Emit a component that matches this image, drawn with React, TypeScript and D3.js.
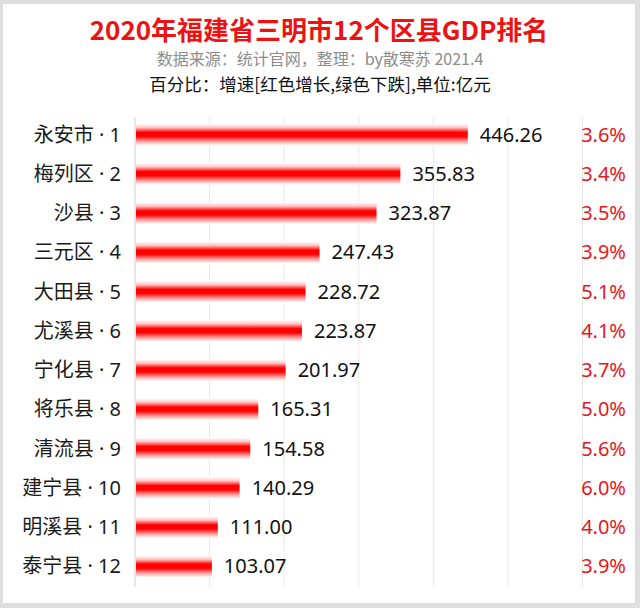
import { scaleBand, scaleLinear } from 'd3';

const counties = ['永安市', '梅列区', '沙县', '三元区', '大田县', '尤溪县', '宁化县', '将乐县', '清流县', '建宁县', '明溪县', '泰宁县'];
const gdp = [446.26, 355.83, 323.87, 247.43, 228.72, 223.87, 201.97, 165.31, 154.58, 140.29, 111.0, 103.07];
const growth = [3.6, 3.4, 3.5, 3.9, 5.1, 4.1, 3.7, 5.0, 5.6, 6.0, 4.0, 3.9];
const xTicks = [100, 200, 300, 400, 500, 600];

const W = 640;
const H = 608;
const FONT = '"Noto Sans CJK SC", "Noto Sans", sans-serif';
const LATIN = '"Noto Sans", "Liberation Sans", sans-serif';

export default function App() {
  const x = scaleLinear().domain([0, 600]).range([135, 582.5]);
  const y = scaleBand<string>().domain(counties).range([115, 586]);
  const barH = 22;

  return (
    <svg
      width={W}
      height={H}
      style={{ position: 'absolute', left: 0, top: 0, fontFamily: FONT }}
    >
      <defs>
        <linearGradient id="barGrad" x1="0" y1="0" x2="0" y2="1">
          <stop offset="0%" stopColor="#ffffff" />
          <stop offset="18%" stopColor="#ffc4c4" />
          <stop offset="40%" stopColor="#ff0000" />
          <stop offset="58%" stopColor="#ff0000" />
          <stop offset="80%" stopColor="#ff9a9a" />
          <stop offset="100%" stopColor="#ffffff" />
        </linearGradient>
      </defs>

      {/* frame */}
      <rect x={0} y={0} width={W} height={H} fill="#dedede" />
      <rect x={3} y={4} width={632} height={599} fill="#ffffff" />

      {/* titles */}
      <text x={319} y={40} textAnchor="middle" fill="#ee1111" fontSize={26} fontWeight="bold">
        2020年福建省三明市12个区县GDP排名
      </text>
      <text x={320} y={65} textAnchor="middle" fill="#8c8c8c" fontSize={16}>
        数据来源：统计官网，整理：by散寒苏 2021.4
      </text>
      <text x={320} y={91} textAnchor="middle" fill="#111111" fontSize={17.5}>
        百分比：增速[红色增长,绿色下跌],单位:亿元
      </text>

      {/* grid */}
      {xTicks.map((t) => (
        <line key={t} x1={x(t)} x2={x(t)} y1={117} y2={587} stroke="#e8e8e8" strokeWidth={1} />
      ))}
      <line x1={x(0)} x2={x(0)} y1={117} y2={587} stroke="#cfcfcf" strokeWidth={1} />

      {/* bars */}
      {counties.map((c, i) => {
        const cy = (y(c) ?? 0) + y.bandwidth() / 2;
        return (
          <g key={c}>
            <rect x={x(0) + 1} y={cy - barH / 2} width={x(gdp[i]) - x(0) - 1} height={barH} fill="url(#barGrad)" />
            <text x={121} y={cy} dy="0.35em" textAnchor="end" fill="#1a1a1a" fontSize={20}>
              {c}
              <tspan fontFamily={LATIN}>{` · ${i + 1}`}</tspan>
            </text>
            <text x={x(gdp[i]) + 12} y={cy} dy="0.35em" fill="#111111" fontSize={20} fontFamily={LATIN}>
              {gdp[i].toFixed(2)}
            </text>
            <text x={626} y={cy} dy="0.35em" textAnchor="end" fill="#e8161c" fontSize={20} fontFamily={LATIN}>
              {`${growth[i].toFixed(1)}%`}
            </text>
          </g>
        );
      })}
    </svg>
  );
}
